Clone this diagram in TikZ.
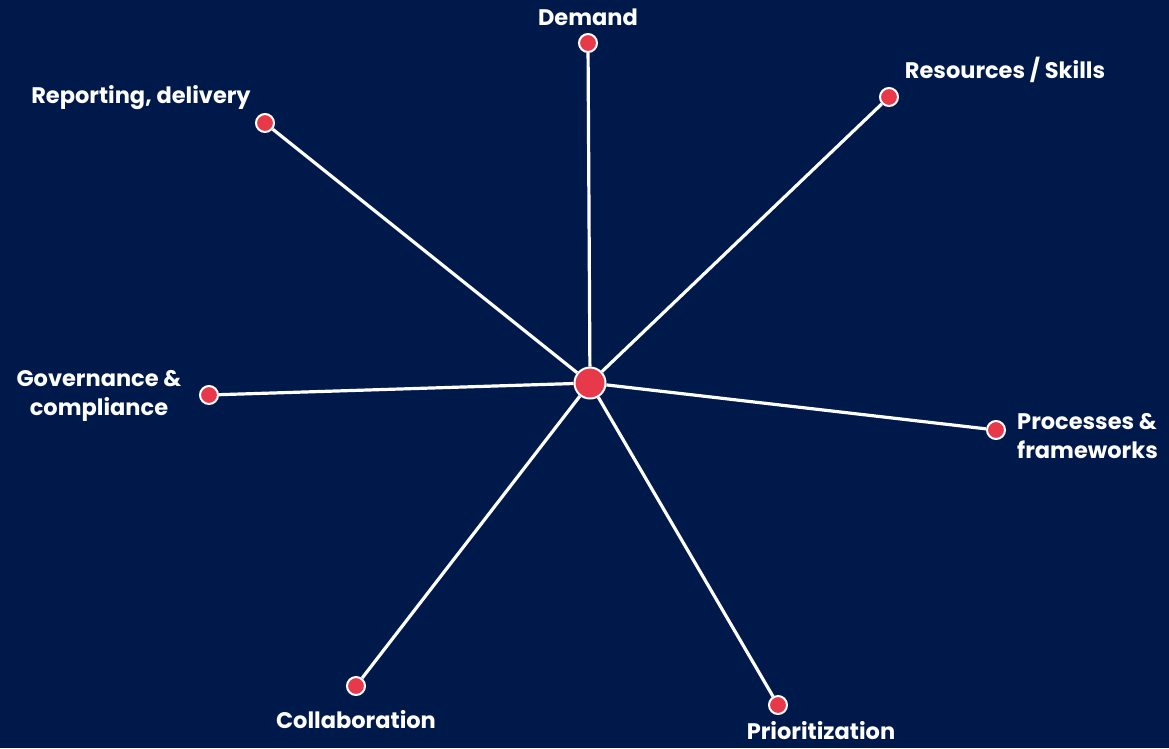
\documentclass[tikz,border=0pt]{standalone}
\usepackage{fontspec}
\setmainfont{Poppins}
\definecolor{navy}{HTML}{00194B}
\definecolor{dotred}{HTML}{E8394A}
\tikzset{
  dot/.style={circle,fill=dotred,draw=white,line width=2pt,inner sep=0pt,minimum size=18pt},
  hub/.style={dot,minimum size=31pt},
  lbl/.style={text=white,font=\fontsize{22.5}{29}\selectfont\bfseries,inner sep=0pt,align=center},
  spoke/.style={draw=white,line width=3.2pt}
}
\begin{document}
\begin{tikzpicture}[x=1pt,y=-1pt]
\fill[navy](0,0)rectangle(1169,748);
\useasboundingbox(0,0)rectangle(1169,748);
\node[hub](c) at(590,383){};
\node[dot](d1) at(588,43){};
\node[dot](d2) at(889,97){};
\node[dot](d3) at(996,430){};
\node[dot](d4) at(778,705){};
\node[dot](d5) at(356,686){};
\node[dot](d6) at(209,395){};
\node[dot](d7) at(265,123){};
\node[lbl](l1) at(588,17){Demand};
\node[lbl](l2) at(1005,70){Resources / Skills};
\node[lbl,align=left,anchor=west](l3) at(1017,436){Processes \&\\frameworks};
\node[lbl](l4) at(821,731){Prioritization};
\node[lbl](l5) at(356,720){Collaboration};
\node[lbl](l6) at(99,396){Governance \&\\compliance};
\node[lbl](l7) at(141,98){Reporting, delivery};
\foreach \n in {d1,d2,d3,d4,d5,d6,d7}
  \draw[spoke](c)--(\n);
\end{tikzpicture}
\end{document}
